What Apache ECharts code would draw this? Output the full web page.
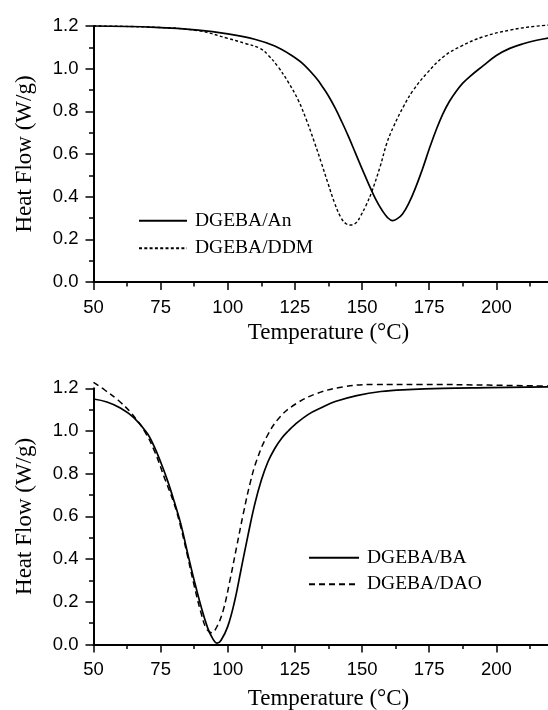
<!DOCTYPE html>
<html>
<head>
<meta charset="utf-8">
<script src="https://cdn.jsdelivr.net/npm/echarts@6/dist/echarts.min.js"></script>
<style>
  html, body { margin: 0; padding: 0; background: #fff; }
  #chart { width: 548px; height: 710px; }
</style>
</head>
<body>
<div id="chart"></div>
<script>
// top panel: DGEBA/An (solid) and DGEBA/DDM (dotted)
const anTemp = [50, 73, 89, 100, 110, 117.5, 123.5, 128.5, 133.5, 135, 137.5, 140, 142.5, 145, 147.5, 150, 152.5, 155, 157.5, 159.5, 161.3, 163, 165, 167.5, 170, 172.5, 175, 177.5, 180, 182.5, 185, 187.5, 190, 195, 200, 205, 210, 215, 220];
const anFlow = [1.2, 1.194, 1.181, 1.163, 1.138, 1.106, 1.064, 1.017, 0.947, 0.92, 0.872, 0.815, 0.75, 0.68, 0.605, 0.53, 0.458, 0.39, 0.335, 0.302, 0.288, 0.296, 0.318, 0.372, 0.445, 0.53, 0.623, 0.71, 0.786, 0.846, 0.893, 0.932, 0.962, 1.013, 1.062, 1.095, 1.117, 1.133, 1.145];

const ddmTemp = [50, 73, 89, 100, 106.3, 112, 115, 118.7, 122.4, 126.2, 129.3, 132.4, 134.9, 137.3, 139.8, 142.3, 144.2, 146, 148, 149.3, 151.5, 153.6, 156.7, 159.2, 161.7, 165.4, 169.1, 174.1, 180.3, 186.5, 195.2, 205.1, 212, 220];
const ddmFlow = [1.2, 1.194, 1.178, 1.142, 1.119, 1.095, 1.064, 1.009, 0.939, 0.853, 0.759, 0.65, 0.556, 0.463, 0.369, 0.298, 0.272, 0.267, 0.28, 0.306, 0.36, 0.423, 0.54, 0.65, 0.728, 0.822, 0.9, 0.978, 1.056, 1.103, 1.15, 1.181, 1.195, 1.205];

// bottom panel: DGEBA/BA (solid) and DGEBA/DAO (dashed)
const baTemp = [50, 55, 60, 65, 70, 72.5, 75, 77.5, 80, 82.5, 85, 87.5, 90, 92.5, 94.5, 96, 97.5, 100, 102.5, 105, 107.5, 110, 112.5, 115, 117.5, 120, 122.5, 125, 130, 135, 140, 148, 157, 167, 180, 197, 220];
const baFlow = [1.15, 1.136, 1.108, 1.063, 0.99, 0.93, 0.855, 0.77, 0.672, 0.565, 0.43, 0.3, 0.18, 0.078, 0.025, 0.006, 0.02, 0.085, 0.2, 0.355, 0.51, 0.655, 0.77, 0.857, 0.918, 0.965, 1.0, 1.03, 1.078, 1.11, 1.138, 1.166, 1.185, 1.194, 1.2, 1.203, 1.207];

const daoTemp = [50, 54.2, 59.1, 64.1, 69.1, 72.8, 76.5, 80, 82.5, 85, 87.5, 90, 92, 94, 96, 98.3, 100.8, 103.3, 105.8, 108.3, 110.8, 114.5, 119.5, 125.7, 133.2, 143, 154.2, 172.1, 196.9, 220];
const daoFlow = [1.228, 1.192, 1.145, 1.083, 0.997, 0.903, 0.778, 0.66, 0.55, 0.415, 0.275, 0.15, 0.075, 0.055, 0.085, 0.16, 0.3, 0.458, 0.614, 0.755, 0.864, 0.973, 1.067, 1.13, 1.176, 1.207, 1.218, 1.218, 1.215, 1.21];

const topNames = ['DGEBA/An', 'DGEBA/DDM'];
const bottomNames = ['DGEBA/BA', 'DGEBA/DAO'];

const pairs = (xs, ys) => xs.map((x, i) => [x, ys[i]]);

const serif = 'Liberation Serif';
const sans = 'Liberation Sans';

function xAxisFor(i, gap) {
  return {
    gridIndex: i,
    type: 'value',
    min: 50,
    max: 225,
    interval: 25,
    name: 'Temperature (°C)',
    nameLocation: 'middle',
    nameGap: gap,
    nameTextStyle: { fontFamily: serif, fontSize: 23, color: '#000' },
    axisLine: { show: true, onZero: false, lineStyle: { color: '#000', width: 2 } },
    axisTick: { show: true, length: 8, lineStyle: { color: '#000', width: 1.5 } },
    minorTick: { show: true, splitNumber: 2, length: 4.5, lineStyle: { color: '#000', width: 1.5 } },
    splitLine: { show: false },
    axisLabel: {
      color: '#000', fontFamily: sans, fontSize: 18.5, margin: 16,
      formatter: v => (v > 220 ? '' : v)
    }
  };
}

function yAxisFor(i) {
  return {
    gridIndex: i,
    type: 'value',
    min: 0,
    max: 1.2,
    interval: 0.2,
    name: 'Heat Flow (W/g)',
    nameLocation: 'middle',
    nameGap: 57,
    nameTextStyle: { fontFamily: serif, fontSize: 23, color: '#000' },
    axisLine: { show: true, onZero: false, lineStyle: { color: '#000', width: 2 } },
    axisTick: { show: true, length: 8, lineStyle: { color: '#000', width: 1.5 } },
    minorTick: { show: true, splitNumber: 2, length: 4.5, lineStyle: { color: '#000', width: 1.5 } },
    splitLine: { show: false },
    axisLabel: {
      color: '#000', fontFamily: sans, fontSize: 18.5, margin: 15,
      formatter: v => v.toFixed(1)
    }
  };
}

function line(name, i, data, type, width) {
  return {
    name: name,
    type: 'line',
    xAxisIndex: i,
    yAxisIndex: i,
    data: data,
    symbol: 'none',
    smooth: 0.4,
    clip: false,
    itemStyle: { color: '#000' },
    lineStyle: { color: '#000', width: width, type: type }
  };
}

const legendText = { fontFamily: serif, fontSize: 19.5, color: '#000', lineHeight: 20, padding: [0, 0, 0, 3] };

const chart = echarts.init(document.getElementById('chart'), null, { renderer: 'canvas' });
chart.setOption({
  animation: false,
  backgroundColor: '#fff',
  grid: [
    { left: 93.5, width: 470, top: 26, height: 256, outerBoundsMode: 'none' },
    { left: 93.5, width: 470, top: 388.3, height: 256.2, outerBoundsMode: 'none' }
  ],
  xAxis: [xAxisFor(0, 39), xAxisFor(1, 43)],
  yAxis: [yAxisFor(0), yAxisFor(1)],
  legend: [
    {
      data: topNames,
      orient: 'vertical',
      left: 138,
      top: 210.7,
      padding: 0,
      itemWidth: 48,
      itemHeight: 14,
      itemGap: 7.6,
      itemStyle: { opacity: 0 },
      textStyle: legendText
    },
    {
      data: bottomNames,
      orient: 'vertical',
      left: 308,
      top: 547.7,
      padding: 0,
      itemWidth: 50,
      itemHeight: 14,
      itemGap: 6.6,
      itemStyle: { opacity: 0 },
      textStyle: legendText
    }
  ],
  series: [
    line(topNames[0], 0, pairs(anTemp, anFlow), 'solid', 1.7),
    line(topNames[1], 0, pairs(ddmTemp, ddmFlow), [3, 2.3], 1.4),
    line(bottomNames[0], 1, pairs(baTemp, baFlow), 'solid', 1.7),
    line(bottomNames[1], 1, pairs(daoTemp, daoFlow), [6, 4], 1.5)
  ]
});
</script>
</body>
</html>
